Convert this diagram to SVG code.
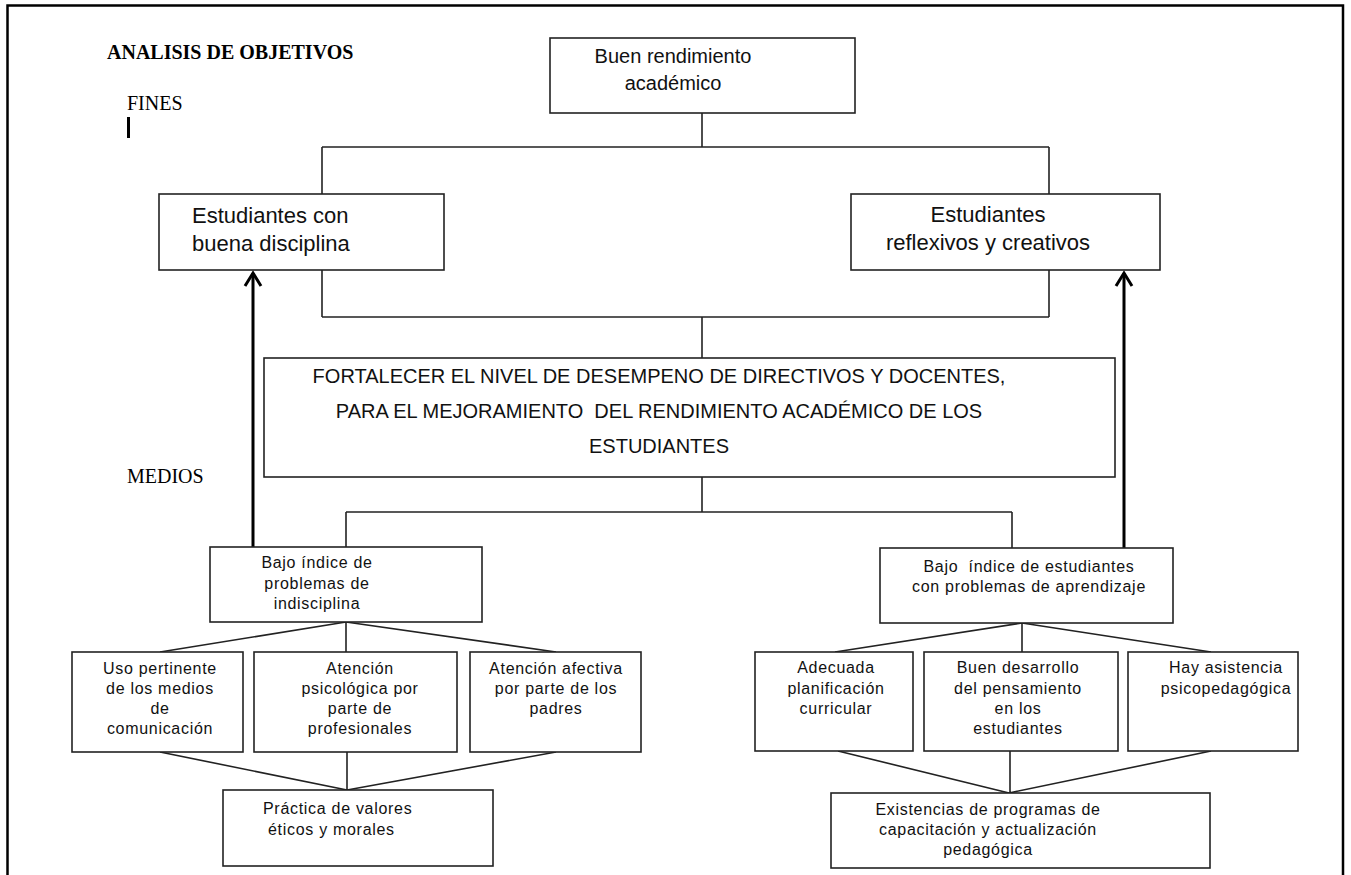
<svg xmlns="http://www.w3.org/2000/svg" width="1351" height="875" viewBox="0 0 1351 875">
<style>
.box{fill:#fff;stroke:#222;stroke-width:1.6}
.ln{fill:none;stroke:#222;stroke-width:1.6}
.arw{fill:none;stroke:#000;stroke-width:3}
.serif{font-family:"Liberation Serif","Times New Roman",serif;fill:#000}
.t20{font-family:"Liberation Sans",Arial,sans-serif;font-size:20px;fill:#111}
.t22{font-family:"Liberation Sans",Arial,sans-serif;font-size:22px;fill:#111}
.t16{font-family:"Liberation Sans",Arial,sans-serif;font-size:16px;letter-spacing:0.7px;fill:#111}
.mid{text-anchor:middle}
</style>
<defs>
<marker id="arr" markerUnits="userSpaceOnUse" markerWidth="30" markerHeight="30" viewBox="-15 -15 30 30" refX="0" refY="0" orient="auto" overflow="visible">
<path d="M-13,-8 L0,0 L-13,8" fill="none" stroke="#000" stroke-width="3"/>
</marker>
</defs>
<rect width="1351" height="875" fill="#fff"/>
<path d="M7.5,880 V5.5 H1343 V880" fill="none" stroke="#000" stroke-width="2.5"/>

<g id="labels">
<text class="serif" x="107" y="59" font-size="20" font-weight="bold">ANALISIS DE OBJETIVOS</text>
<text class="serif" x="127" y="110" font-size="20">FINES</text>
<rect x="127" y="117" width="3" height="21" fill="#000"/>
<text class="serif" x="127" y="483" font-size="20">MEDIOS</text>
</g>

<g id="connectors">
<path class="ln" d="M702,113 V147 M322,147 H1049 M322,147 V194 M1049,147 V194"/>
<path class="ln" d="M322,270 V317 M1049,270 V317 M322,317 H1049 M702,317 V358"/>
<path class="ln" d="M702,477 V512 M346,512 H1012 M346,512 V547 M1012,512 V548"/>
<path class="ln" d="M346,622 L160,652 M346,622 V652 M346,622 L556,652"/>
<path class="ln" d="M160,752 L347,790 M347,752 V790 M556,752 L347,790"/>
<path class="ln" d="M1022,623 L835,652 M1022,623 V652 M1022,623 L1211,652"/>
<path class="ln" d="M838,751 L1009,793 M1010,751 V793 M1211,751 L1009,793"/>
<line class="arw" x1="253" y1="547" x2="253" y2="273" marker-end="url(#arr)"/>
<line class="arw" x1="1124" y1="548" x2="1124" y2="273" marker-end="url(#arr)"/>
</g>

<g id="n-buen-rendimiento">
<rect class="box" x="550" y="38" width="305" height="75"/>
<text class="t20 mid" x="673" y="63">Buen rendimiento</text>
<text class="t20 mid" x="673" y="90">académico</text>
</g>

<g id="n-disciplina">
<rect class="box" x="159" y="194" width="285" height="76"/>
<text class="t22" x="192" y="223">Estudiantes con</text>
<text class="t22" x="192" y="251">buena disciplina</text>
</g>

<g id="n-reflexivos">
<rect class="box" x="851" y="194" width="309" height="76"/>
<text class="t22 mid" x="988" y="222">Estudiantes</text>
<text class="t22 mid" x="988" y="250">reflexivos y creativos</text>
</g>

<g id="n-fortalecer">
<rect class="box" x="264" y="358" width="851" height="119"/>
<text class="t20 mid" x="659" y="383">FORTALECER EL NIVEL DE DESEMPENO DE DIRECTIVOS Y DOCENTES,</text>
<text class="t20 mid" x="659" y="418" xml:space="preserve">PARA EL MEJORAMIENTO  DEL RENDIMIENTO ACADÉMICO DE LOS</text>
<text class="t20 mid" x="659" y="453">ESTUDIANTES</text>
</g>

<g id="n-bajo-indisciplina">
<rect class="box" x="210" y="547" width="272" height="75"/>
<text class="t16 mid" x="317" y="568">Bajo índice de</text>
<text class="t16 mid" x="317" y="589">problemas de</text>
<text class="t16 mid" x="317" y="609">indisciplina</text>
</g>

<g id="n-bajo-aprendizaje">
<rect class="box" x="880" y="548" width="293" height="75"/>
<text class="t16 mid" x="1029" y="572" xml:space="preserve">Bajo  índice de estudiantes</text>
<text class="t16 mid" x="1029" y="592">con problemas de aprendizaje</text>
</g>

<g id="n-uso-medios">
<rect class="box" x="72" y="652" width="171" height="100"/>
<text class="t16 mid" x="160" y="674">Uso pertinente</text>
<text class="t16 mid" x="160" y="694">de los medios</text>
<text class="t16 mid" x="160" y="714">de</text>
<text class="t16 mid" x="160" y="734">comunicación</text>
</g>

<g id="n-atencion-psicologica">
<rect class="box" x="254" y="652" width="203" height="100"/>
<text class="t16 mid" x="360" y="674">Atención</text>
<text class="t16 mid" x="360" y="694">psicológica por</text>
<text class="t16 mid" x="360" y="714">parte de</text>
<text class="t16 mid" x="360" y="734">profesionales</text>
</g>

<g id="n-atencion-afectiva">
<rect class="box" x="470" y="652" width="171" height="100"/>
<text class="t16 mid" x="556" y="674">Atención afectiva</text>
<text class="t16 mid" x="556" y="694">por parte de los</text>
<text class="t16 mid" x="556" y="714">padres</text>
</g>

<g id="n-practica">
<rect class="box" x="223" y="790" width="270" height="76"/>
<text class="t16" x="263" y="814">Práctica de valores</text>
<text class="t16" x="268" y="835">éticos y morales</text>
</g>

<g id="n-adecuada">
<rect class="box" x="755" y="652" width="158" height="99"/>
<text class="t16 mid" x="836" y="673">Adecuada</text>
<text class="t16 mid" x="836" y="694">planificación</text>
<text class="t16 mid" x="836" y="714">curricular</text>
</g>

<g id="n-buen-desarrollo">
<rect class="box" x="924" y="652" width="194" height="99"/>
<text class="t16 mid" x="1018" y="673">Buen desarrollo</text>
<text class="t16 mid" x="1018" y="694">del pensamiento</text>
<text class="t16 mid" x="1018" y="714">en los</text>
<text class="t16 mid" x="1018" y="734">estudiantes</text>
</g>

<g id="n-hay-asistencia">
<rect class="box" x="1128" y="652" width="170" height="99"/>
<text class="t16 mid" x="1226" y="673">Hay asistencia</text>
<text class="t16 mid" x="1226" y="694">psicopedagógica</text>
</g>

<g id="n-existencias">
<rect class="box" x="831" y="793" width="379" height="75"/>
<text class="t16 mid" x="988" y="815">Existencias de programas de</text>
<text class="t16 mid" x="988" y="835">capacitación y actualización</text>
<text class="t16 mid" x="988" y="855">pedagógica</text>
</g>
</svg>
